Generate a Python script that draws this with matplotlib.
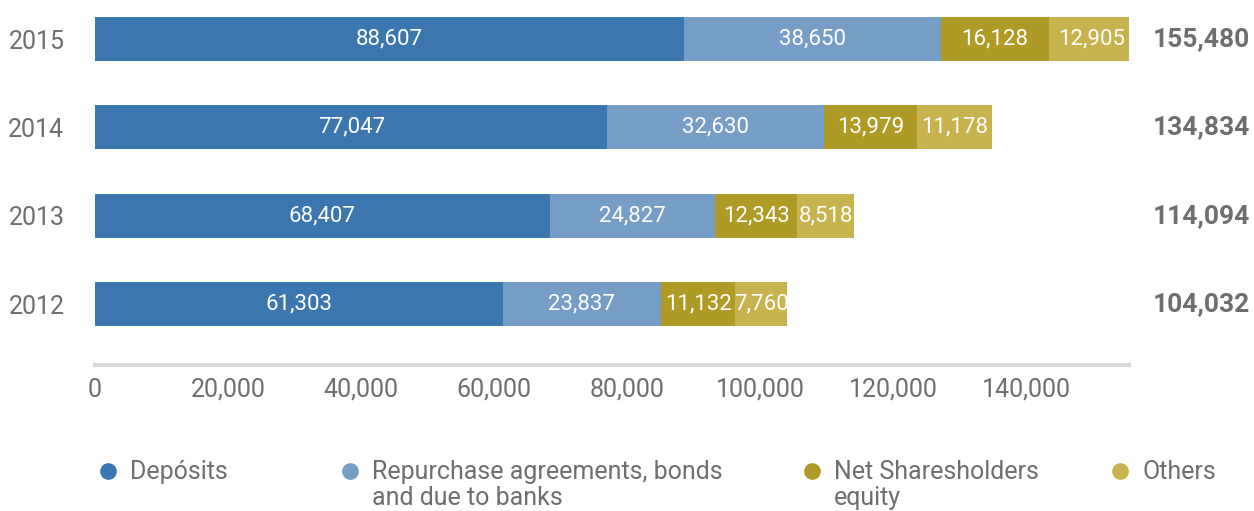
import matplotlib.pyplot as plt
import matplotlib.transforms as mtransforms
from matplotlib.lines import Line2D

# ── Data ─────────────────────────────────────────────────────────────────────
years = ["2012", "2013", "2014", "2015"]
deposits = [61303, 68407, 77047, 88607]
repurchase = [23837, 24827, 32630, 38650]
equity = [11132, 12343, 13979, 16128]
others = [7760, 8518, 11178, 12905]
totals = [104032, 114094, 134834, 155480]

series_names = ["Depósits", "Repurchase agreements, bonds\nand due to banks",
                "Net Sharesholders\nequity", "Others"]
colors = ["#3b76af", "#769dc6", "#ae9a25", "#c8b34f"]
xticks = [0, 20000, 40000, 60000, 80000, 100000, 120000, 140000]

GREY = "#6d6e71"
plt.rcParams["font.family"] = ["Roboto", "DejaVu Sans"]

# ── Figure ───────────────────────────────────────────────────────────────────
W, H = 1254, 511
fig = plt.figure(figsize=(W / 100, H / 100), dpi=100)
ax = fig.add_axes([95 / W, 1 - 365 / H, (1129 - 95) / W, (365 - 17) / H])

ypos = list(range(len(years)))
left = [0] * len(years)
for vals, col in zip([deposits, repurchase, equity, others], colors):
    ax.barh(ypos, vals, left=left, height=0.5, color=col, linewidth=0)
    for y, l, v in zip(ypos, left, vals):
        ax.text(l + v / 2, y, f"{v:,}", ha="center", va="center",
                color="white", fontsize=16)
    left = [l + v for l, v in zip(left, vals)]

# totals on the right
trans = mtransforms.blended_transform_factory(fig.transFigure, ax.transData)
for y, t in zip(ypos, totals):
    ax.text(1250 / W, y, f"{t:,}", transform=trans, ha="right", va="center",
            color=GREY, fontsize=19, fontweight="bold")

ax.set_xlim(0, totals[-1])
ax.set_ylim(-0.69, 3.25)
ax.set_xticks(xticks)
ax.set_xticklabels([f"{x:,}" for x in xticks])
ax.set_yticks(ypos)
ax.set_yticklabels(years)
ax.tick_params(axis="both", length=0, colors=GREY, labelsize=18)
ax.tick_params(axis="y", pad=22)
ax.tick_params(axis="x", pad=9)

for s in ["top", "right", "left"]:
    ax.spines[s].set_visible(False)
ax.spines["bottom"].set_color("#d9d9d9")
ax.spines["bottom"].set_linewidth(3)

# ── Legend ───────────────────────────────────────────────────────────────────
leg_x = [108, 350, 812, 1120]
for x, name, col in zip(leg_x, series_names, colors):
    fig.add_artist(Line2D([x / W], [1 - 471 / H], transform=fig.transFigure,
                          marker="o", markersize=11, color=col, linestyle="none"))
    fig.text((x + 22) / W, 1 - 460 / H, name, ha="left", va="top",
             color=GREY, fontsize=18, linespacing=1.12)

fig.savefig("out.png", dpi=100)
